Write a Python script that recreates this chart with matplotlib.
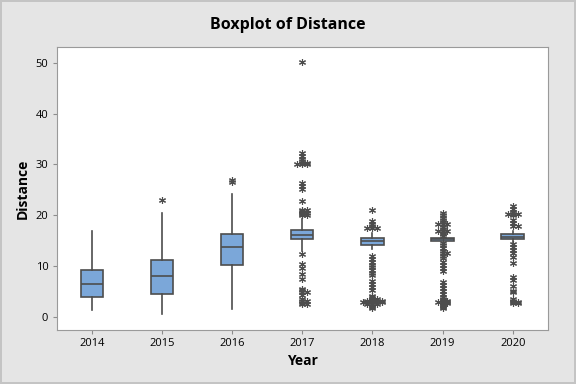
import matplotlib
matplotlib.use("Agg")
import matplotlib.pyplot as plt
from collections import Counter

plt.rcParams["font.family"] = ["Open Sans", "DejaVu Sans"]

years = ["2014", "2015", "2016", "2017", "2018", "2019", "2020"]

# box summary
whisker_low = [1.4, 0.6, 1.6, 13.0, 13.3, 14.9, 14.4]
q1 = [3.9, 4.4, 10.1, 15.2, 14.2, 14.95, 15.2]
median = [6.4, 8.1, 13.7, 16.1, 14.9, 15.2, 15.6]
q3 = [9.1, 11.2, 16.2, 17.0, 15.4, 15.4, 16.3]
whisker_high = [16.9, 20.4, 24.2, 19.2, 16.4, 15.5, 16.9]

outliers = [
    [],
    [23.0],
    [26.5, 26.9],
    [50.2, 32.2, 31.6, 31.0, 30.6, 30.3, 30.3, 30.0, 30.0, 30.0,
     26.4, 25.8, 25.2, 22.8, 21.0, 21.0, 20.8, 20.5, 20.5, 20.2, 20.0, 20.0,
     12.4, 10.4, 9.6, 8.4, 7.5, 5.5, 5.2, 4.8, 4.8, 4.3, 3.5, 3.0, 3.0, 2.7, 2.5, 2.5],
    [21.0, 18.8, 18.2, 17.8, 17.5, 17.5, 17.5,
     11.9, 11.3, 10.8, 10.2, 9.7, 9.2, 8.7, 8.2, 7.1, 6.5, 5.9, 5.3,
     4.0, 3.8, 3.5, 3.5, 3.2, 3.0, 3.0, 3.0, 3.0, 2.8, 2.8, 2.8, 2.8, 2.8,
     2.5, 2.5, 2.5, 2.2, 2.0, 1.7],
    [20.5, 20.0, 19.5, 19.0, 18.6, 18.3, 18.3, 18.3, 17.7, 17.2, 16.8, 16.8, 16.8,
     16.5, 16.2, 15.8, 14.6, 14.2, 13.6, 13.0, 12.5, 12.5, 12.0, 11.5, 10.8,
     10.2, 9.6, 9.0, 6.8, 6.2, 5.6, 5.0, 4.4, 3.9, 3.5, 3.2, 3.0, 3.0, 2.8,
     2.8, 2.8, 2.6, 2.6, 2.4, 2.2, 2.0, 1.8],
    [21.8, 21.2, 20.6, 20.3, 20.3, 20.3, 20.0, 19.0, 18.4, 17.8, 17.8,
     14.3, 13.8, 13.2, 12.5, 11.8, 10.6, 7.8, 7.2, 6.0, 5.0, 4.8, 3.5,
     3.0, 2.8, 2.8, 2.6, 2.6],
]

fig = plt.figure(figsize=(5.76, 3.84), dpi=100)
fig.patch.set_facecolor("#e5e5e5")
fig.patch.set_edgecolor("#c4c4c4")
fig.patch.set_linewidth(1.5)
ax = fig.add_axes([0.0984, 0.1406, 0.8526, 0.737])

stats = []
for i in range(len(years)):
    stats.append({"whislo": whisker_low[i], "q1": q1[i], "med": median[i],
                  "q3": q3[i], "whishi": whisker_high[i], "fliers": []})

positions = list(range(1, len(years) + 1))
edge = "#4d4d4d"
ax.bxp(stats, positions=positions, widths=0.32, showcaps=False,
       showfliers=False, patch_artist=True,
       boxprops=dict(facecolor="#7ba7d9", edgecolor=edge, linewidth=1.2),
       medianprops=dict(color=edge, linewidth=1.2),
       whiskerprops=dict(color=edge, linewidth=1.2))

# tied outliers are placed side by side
for pos, vals in zip(positions, outliers):
    seen = Counter()
    for v in vals:
        k = seen[v]
        seen[v] += 1
        off = ((k + 1) // 2) * (1 if k % 2 else -1) * 0.07
        ax.plot(pos + off, v, marker=(6, 2, 0), ms=5, mec=edge, mew=0.8,
                linestyle="none")

ax.set_xlim(0.5, 7.5)
ax.set_ylim(-2.62, 53.1)
ax.set_xticks(positions)
ax.set_xticklabels(years)
ax.set_yticks(range(0, 51, 10))
ax.tick_params(labelsize=8, color="#8c8c8c", length=3, pad=3)
for s in ax.spines.values():
    s.set_color("#9a9a9a")

ax.set_xlabel("Year", fontsize=10, fontweight="bold", labelpad=3)
ax.set_ylabel("Distance", fontsize=10, fontweight="bold", labelpad=4)
fig.suptitle("Boxplot of Distance", fontsize=11.5, fontweight="bold", y=0.955)

fig.savefig("out.png", dpi=100, facecolor=fig.get_facecolor(), edgecolor=fig.get_edgecolor())
